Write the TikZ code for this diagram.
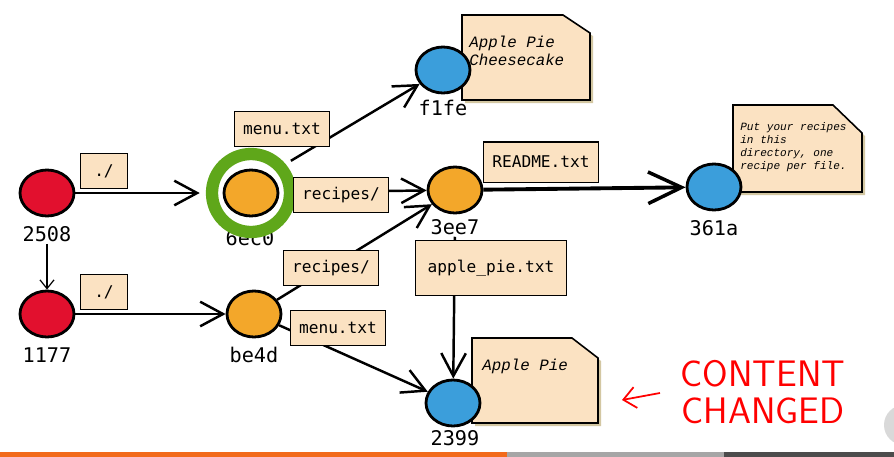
\documentclass[tikz,border=0pt]{standalone}
\usepackage{fontspec}
\newfontfamily\hashfont{DejaVu Sans Mono}
\newfontfamily\notefont{Liberation Mono}
\usetikzlibrary{arrows.meta,shapes.geometric}
\definecolor{cred}{HTML}{E2102E}
\definecolor{corange}{HTML}{F3A72A}
\definecolor{cblue}{HTML}{3B9EDB}
\definecolor{cgreen}{HTML}{5FA71A}
\definecolor{paper}{HTML}{FBE2C2}
\definecolor{papershade}{HTML}{D3C7A2}
\definecolor{barorange}{HTML}{F26A1B}
\begin{document}
\begin{tikzpicture}[x=0.02cm, y=-0.02cm,
    blob/.style={ellipse, draw, line width=1.6pt, minimum width=1.08cm, minimum height=0.92cm, inner sep=0pt},
    hash/.style={inner sep=1pt, font=\hashfont\fontsize{11.5}{13}\selectfont},
    lbl/.style={draw, fill=paper, line width=0.8pt, minimum height=20pt, inner xsep=5pt, font=\hashfont\fontsize{9.2}{11}\selectfont},
    ring/.style={circle, draw=cgreen, line width=7pt, minimum size=1.56cm, inner sep=0pt},
    note/.style={inner sep=0pt, align=left, font=\notefont\itshape\fontsize{9}{10.2}\selectfont},
    edge/.style={line width=1.4pt, -{Straight Barb[length=13pt,width=14pt,line width=1.4pt]}},
    bigedge/.style={line width=2.2pt, -{Straight Barb[length=19pt,width=18pt,line width=2pt]}},
    thinedge/.style={line width=0.7pt, -{Straight Barb[length=5pt,width=8pt,line width=0.7pt]}}]
    \clip (0,0) rectangle (894,457);
    \fill[white] (0,0) rectangle (894,457);

    % notes
    \fill[papershade] (465,18) -- (566,18) -- (593,36) -- (593,103) -- (465,103) -- cycle;
    \filldraw[fill=paper, line width=0.9pt] (462,15) -- (563,15) -- (590,33) -- (590,100) -- (462,100) -- cycle;
    \node[note, anchor=west] (pf1fe) at (469,51) {Apple Pie\\Cheesecake};

    \fill[papershade] (736,108) -- (836,108) -- (865,136) -- (865,195) -- (736,195) -- cycle;
    \filldraw[fill=paper, line width=0.9pt] (733,105) -- (833,105) -- (862,133) -- (862,192) -- (733,192) -- cycle;
    \node[note, anchor=west, font=\notefont\itshape\fontsize{6.3}{7.4}\selectfont] (p361a) at (740,147)
        {Put your recipes\\in this\\directory, one\\recipe per file.};

    \fill[papershade] (475,341) -- (575,341) -- (601,361) -- (601,426) -- (475,426) -- cycle;
    \filldraw[fill=paper, line width=0.9pt] (472,338) -- (572,338) -- (598,358) -- (598,423) -- (472,423) -- cycle;
    \node[note, anchor=west] (p2399) at (482,366) {Apple Pie};

    % objects
    \node[blob, fill=cred] (c2508) at (47,193) {};
    \node[blob, fill=cred] (c1177) at (47,314) {};
    \node[hash] (t6ec0) at (250,238) {6ec0};
    \node[ring] (g6ec0) at (251,193) {};
    \node[blob, fill=corange] (c6ec0) at (251,193) {};
    \node[blob, fill=corange] (cbe4d) at (254,314) {};
    \node[blob, fill=corange] (c3ee7) at (455,190) {};
    \node[blob, fill=cblue] (cf1fe) at (443,70) {};
    \node[blob, fill=cblue] (c361a) at (714,187) {};
    \node[blob, fill=cblue] (c2399) at (453,403) {};

    \node[hash] (t2508) at (47,234) {2508};
    \node[hash] (t1177) at (47,355) {1177};
    \node[hash] (tbe4d) at (254,355) {be4d};
    \node[hash] (t3ee7) at (455,227) {3ee7};
    \node[hash] (tf1fe) at (443,108) {f1fe};
    \node[hash] (t361a) at (714,228) {361a};
    \node[hash] (t2399) at (455,438) {2399};

    % trees
    \draw[edge, shorten >=3.5pt] (c2508) -- (g6ec0);
    \draw[thinedge] (t2508) -- (c1177);
    \draw[edge] (c1177) -- (cbe4d);
    \draw[edge, shorten <=3.5pt] (g6ec0.40) -- (cf1fe);
    \draw[edge, shorten <=3.5pt] (g6ec0) -- (c3ee7);
    \draw[edge] (cbe4d) -- (c3ee7);
    \draw[bigedge] (c3ee7) -- (c361a);
    \draw[edge] (t3ee7) -- (c2399);
    \draw[edge] (cbe4d) -- (c2399);

    \node[lbl, minimum width=27pt] (l2508) at (104,171) {./};
    \node[lbl, minimum width=27pt] (l1177) at (104,292) {./};
    \node[lbl] (lmenu) at (282,129) {menu.txt};
    \node[lbl] (lrecipes) at (341,195) {recipes/};
    \node[lbl, minimum height=23pt] (lreadme) at (541,162) {README.txt};
    \node[lbl] (lrecipesb) at (331,268) {recipes/};
    \node[lbl] (lmenub) at (338,328) {menu.txt};
    \node[lbl, minimum height=31pt, inner xsep=7pt] (lapple) at (491,268) {apple\_pie.txt};

    % scribble
    \node[red, align=center, inner sep=0pt, font=\sffamily\fontsize{21}{21}\selectfont] (wchanged) at (763,392) {CONTENT\\CHANGED};
    \coordinate (ptail) at (660,393);
    \coordinate (phead) at (622,400);
    \draw[red, line width=1pt, -{Straight Barb[length=7pt,width=12pt,line width=1pt]}] (ptail) -- (phead);

    % player bar
    \fill[black!15] (904,425) circle (20);
    \fill[barorange] (0,452) rectangle (507,457);
    \fill[black!35] (507,452) rectangle (724,457);
    \fill[black!70] (724,452) rectangle (894,457);
\end{tikzpicture}
\end{document}
